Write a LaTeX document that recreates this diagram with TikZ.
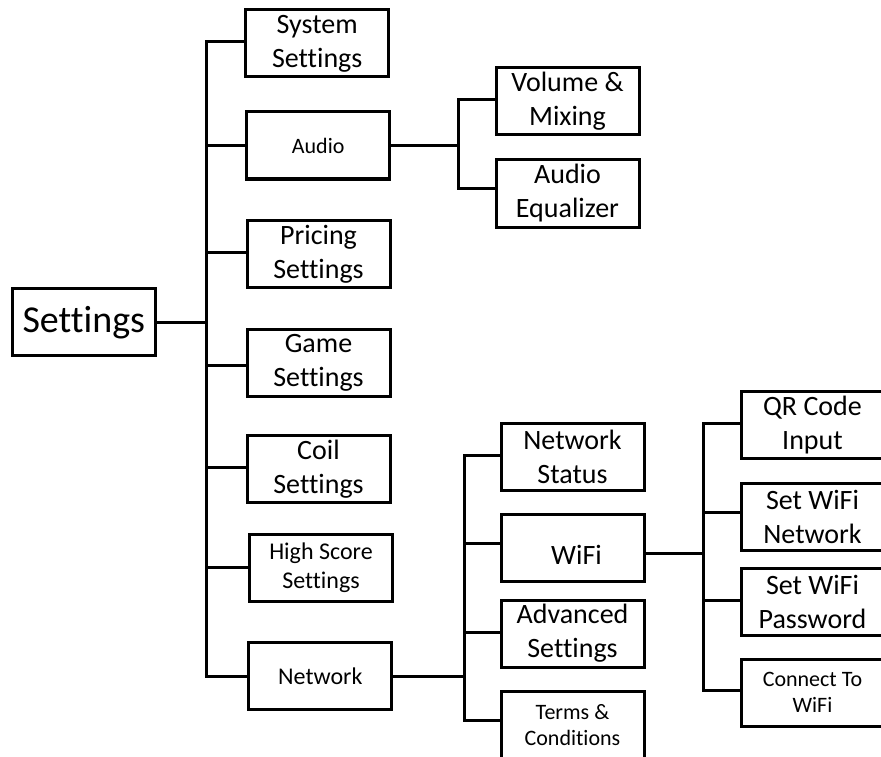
\documentclass[tikz,border=0pt]{standalone}
\usepackage{fontspec}
\setmainfont{Carlito}[Ligatures={NoCommon}]
\begin{document}
\begin{tikzpicture}[x=1pt,y=-1pt,
  box/.style={draw=black, line width=3pt, rectangle, inner sep=0pt,
    minimum width=143pt, minimum height=67pt, align=center},
  big/.style={font=\fontsize{28}{34}\selectfont},
  mid/.style={font=\fontsize{24}{29}\selectfont},
  small/.style={font=\fontsize{22}{26}\selectfont},
  huge/.style={font=\fontsize{38}{46}\selectfont},
  conn/.style={line width=3pt, black}]
\useasboundingbox (0,0) rectangle (881,757);
\fill[white] (0,0) rectangle (881,757);
\clip (0,0) rectangle (881,757);

% nodes
\node[box,huge] (root) at (83.8,322.2) {Settings};
\node[box,big] (sys) at (317.2,43.5) {System\\Settings};
\node[box,small] (audio) at (318.2,145.5) {Audio};
\node[box,big] (pricing) at (318.5,254) {Pricing\\Settings};
\node[box,big] (game) at (318.5,363) {Game\\Settings};
\node[box,big] (coil) at (318.5,468.8) {Coil\\Settings};
\node[box,mid] (high) at (321,567.8) {High Score\\Settings};
\node[box,mid] (net) at (320.3,676.3) {Network};

\node[box,big] (vol) at (567.5,101.3) {Volume \&\\Mixing};
\node[box,big] (eq) at (567.5,193.5) {Audio\\Equalizer};

\node[box,big] (nstat) at (572.5,457) {Network\\Status};
\node[box,big] (wifi) at (572.5,547.5) {\raisebox{-7pt}[\height][\depth]{\hspace*{8pt}WiFi}};
\node[box,big] (adv) at (572.5,633.5) {Advanced\\Settings};
\node[box,small] (terms) at (572.5,724.8) {Terms \&\\Conditions};

\node[box,big] (qr) at (812.5,425) {QR Code\\Input};
\node[box,big] (swn) at (812.5,517.3) {Set WiFi\\Network};
\node[box,big] (swp) at (812.5,602.3) {Set WiFi\\Password};
\node[box,small] (cwifi) at (812.5,692.7) {Connect To\\WiFi};

% trunk coordinates
\coordinate (T) at (206,0);
\coordinate (A) at (458,0);
\coordinate (N) at (464,0);
\coordinate (W) at (703,0);

% main tree
\draw[conn] (root.east) -- (root.east -| T);
\draw[conn] ([yshift=1.5pt]sys.west) -- ([yshift=1.5pt]sys.west -| T) -- (net.west -| T) -- (net.west);
\foreach \b in {audio,high}
  \draw[conn] (\b.west) -- (\b.west -| T);
\draw[conn] ([yshift=1.5pt]pricing.west) -- ([yshift=1.5pt]pricing.west -| T);
\draw[conn] ([yshift=1.5pt]coil.west) -- ([yshift=1.5pt]coil.west -| T);
\draw[conn] ([yshift=-2.5pt]game.west) -- ([yshift=-2.5pt]game.west -| T);

% audio subtree
\draw[conn] (audio.east) -- (audio.east -| A);
\draw[conn] ([yshift=1.5pt]vol.west) -- ([yshift=1.5pt]vol.west -| A) -- ([yshift=5pt]eq.west -| A) -- ([yshift=5pt]eq.west);

% network subtree
\draw[conn] (net.east) -- (net.east -| N);
\draw[conn] ([yshift=1.5pt]nstat.west) -- ([yshift=1.5pt]nstat.west -| N) -- ([yshift=4pt]terms.west -| N) -- ([yshift=4pt]terms.west);
\draw[conn] ([yshift=4pt]wifi.west) -- ([yshift=4pt]wifi.west -| N);
\draw[conn] ([yshift=1.5pt]adv.west) -- ([yshift=1.5pt]adv.west -| N);

% wifi subtree
\draw[conn] ([yshift=-6pt]wifi.east) -- ([yshift=-6pt]wifi.east -| W);
\draw[conn] ([yshift=1.5pt]qr.west) -- ([yshift=1.5pt]qr.west -| W) -- ([yshift=2pt]cwifi.west -| W) -- ([yshift=2pt]cwifi.west);
\draw[conn] ([yshift=4.5pt]swn.west) -- ([yshift=4.5pt]swn.west -| W);
\draw[conn] ([yshift=1.5pt]swp.west) -- ([yshift=1.5pt]swp.west -| W);
\end{tikzpicture}
\end{document}
